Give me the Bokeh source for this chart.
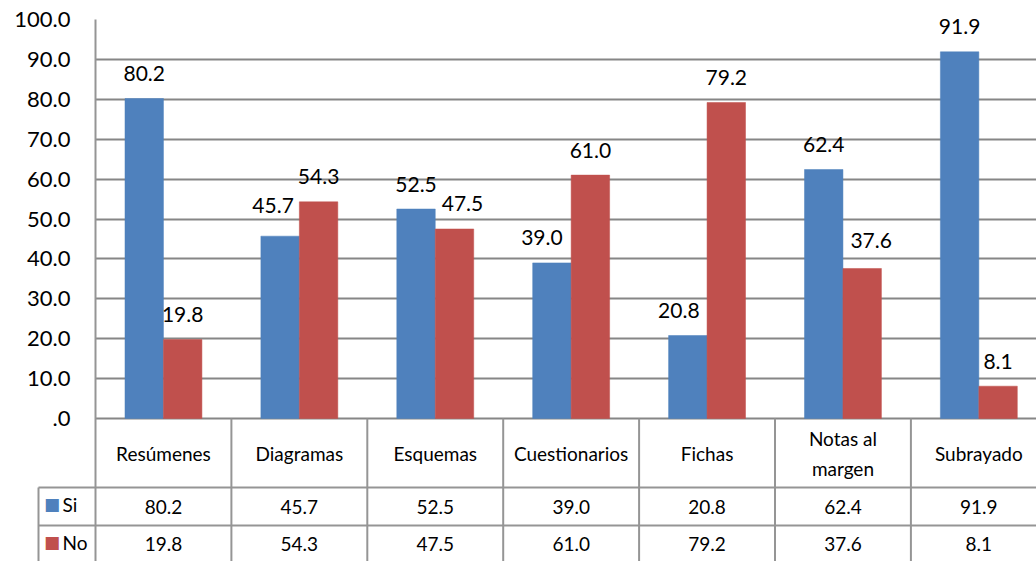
import numpy as np
from bokeh.plotting import figure
from bokeh.models import Range1d, FixedTicker, ColumnDataSource
from bokeh.core.properties import value
from bokeh.embed import file_html
from bokeh.resources import INLINE

# ---------------- data ----------------
categories = ["Resúmenes", "Diagramas", "Esquemas", "Cuestionarios", "Fichas", "Notas al\nmargen", "Subrayado"]
series = ["Si", "No"]
si_values = [80.2, 45.7, 52.5, 39.0, 20.8, 62.4, 91.9]
no_values = [19.8, 54.3, 47.5, 61.0, 79.2, 37.6, 8.1]
y_ticks = [0, 10, 20, 30, 40, 50, 60, 70, 80, 90, 100]
y_tick_labels = [".0", "10.0", "20.0", "30.0", "40.0", "50.0", "60.0", "70.0", "80.0", "90.0", "100.0"]

# ---------------- layout (pixel geometry) ----------------
FONT = "Lato"
BLUE = "#4F81BD"
RED = "#C0504D"
GRID = "#868686"
TABLE = "#959595"

W, H = 1036, 561
left_px, top_px = 95, 19          # frame origin inside the canvas
zero_px = 418                     # canvas y of value 0
px_per_unit = (zero_px - top_px) / 100.0
cat_px = 135.9                    # width of one category column
frame_w = W - left_px
frame_h = H - top_px

x_end = frame_w / cat_px
y_start = -(frame_h - (zero_px - top_px)) / px_per_unit

# label nudges (screen px) mimicking the spreadsheet's overlap avoidance
si_dx = [0, -7, 0, -10, -9, 0, 0]
si_dy = [0, -6, 0, 0, 0, 0, 0]
no_dx = [0, 0, 8, 0, 0, 9, 0]
no_dy = [0, 0, 0, 0, 0, -3, 0]

def dx(px):   # canvas px -> data x
    return (px - left_px) / cat_px

def dy(px):   # canvas px -> data y
    return -(px - zero_px) / px_per_unit

p = figure(width=W, height=H, output_backend="svg", toolbar_location=None,
           x_range=Range1d(0, x_end), y_range=Range1d(y_start, 100),
           min_border_left=left_px, min_border_top=top_px,
           min_border_bottom=0, min_border_right=0)
p.outline_line_color = None
p.background_fill_color = "white"
p.border_fill_color = "white"

# axes
p.xaxis.visible = False
p.xgrid.visible = False
yax = p.yaxis[0]
yax.ticker = FixedTicker(ticks=y_ticks)
yax.major_label_overrides = {t: l for t, l in zip(y_ticks, y_tick_labels)}
yax.major_tick_in = 0
yax.major_tick_out = 0
yax.minor_tick_in = 0
yax.minor_tick_out = 0
yax.major_label_standoff = 25
yax.major_label_text_font = FONT
yax.major_label_text_font_size = "22px"
yax.major_label_text_color = "black"
yax.axis_line_color = TABLE
yax.axis_line_width = 2
p.ygrid.ticker = FixedTicker(ticks=y_ticks)
p.ygrid.grid_line_color = GRID
p.ygrid.grid_line_width = 2

# bars
idx = np.arange(len(categories))
bw = 0.283
src = ColumnDataSource(dict(
    xs=idx + 0.5 - bw / 2, xn=idx + 0.5 + bw / 2,
    si=si_values, no=no_values,
    si_t=[f"{v:.1f}" for v in si_values], no_t=[f"{v:.1f}" for v in no_values],
    si_dx=si_dx, si_dy=[d - 25 for d in si_dy],
    no_dx=no_dx, no_dy=[d - 25 for d in no_dy],
))
p.vbar(x="xs", top="si", width=bw, bottom=0, source=src, fill_color=BLUE, line_color=BLUE, line_width=0.5)
p.vbar(x="xn", top="no", width=bw, bottom=0, source=src, fill_color=RED, line_color=RED, line_width=0.5)

# data labels
lbl = dict(text_font=value(FONT), text_font_size="21px", text_color="black",
           text_align="center", text_baseline="alphabetic", level="overlay")
p.text(x="xs", y="si", text="si_t", x_offset="si_dx", y_offset="si_dy", source=src, **lbl)
p.text(x="xn", y="no", text="no_t", x_offset="no_dx", y_offset="no_dy", source=src, **lbl)

# ---------------- data table ----------------
row1_bot, row2_bot, row3_bot = 487, 525, 580
legend_left = 38
tbl_right = x_end + 1

# horizontal lines
p.segment(x0=[dx(legend_left), dx(legend_left)], y0=[dy(row1_bot), dy(row2_bot)],
          x1=[tbl_right, tbl_right], y1=[dy(row1_bot), dy(row2_bot)],
          line_color=TABLE, line_width=2, level="overlay")
# vertical lines
vx = list(idx[1:] * 1.0) + [float(len(categories))]
p.segment(x0=vx, y0=[0] * len(vx), x1=vx, y1=[dy(row3_bot)] * len(vx),
          line_color=TABLE, line_width=2, level="overlay")
p.segment(x0=[dx(legend_left)], y0=[dy(row1_bot)], x1=[dx(legend_left)], y1=[dy(row3_bot)],
          line_color=TABLE, line_width=2, level="overlay")

tsrc = ColumnDataSource(dict(
    x=idx + 0.5, cat=categories,
    si_t=[f"{v:.1f}" for v in si_values], no_t=[f"{v:.1f}" for v in no_values],
))
tstyle = dict(text_font=value(FONT), text_font_size="19px", text_color="black",
              text_align="center", text_baseline="middle", level="overlay")
p.text(x="x", y=dy(453), text="cat", source=tsrc, text_line_height=1.3, **tstyle)
p.text(x="x", y=dy(506), text="si_t", source=tsrc, **tstyle)
p.text(x="x", y=dy(543), text="no_t", source=tsrc, **tstyle)

# legend keys in table (square glyph character, drawn unclipped)
key_cy = [503.5, 541.5]
p.text(x=[dx(51.5)] * 2, y=[dy(c) for c in key_cy], text=["\u25A0", "\u25A0"],
       text_color=[BLUE, RED], text_font=value("DejaVu Sans"), text_font_size="17px",
       text_align="center", text_baseline="middle", level="overlay")
p.text(x=[dx(62)] * 2, y=[dy(c) for c in key_cy], text=series, text_font=value(FONT),
       text_font_size="19px", text_color="black", text_align="left", text_baseline="middle",
       level="overlay")

open("out.html", "w").write(file_html(p, INLINE))
